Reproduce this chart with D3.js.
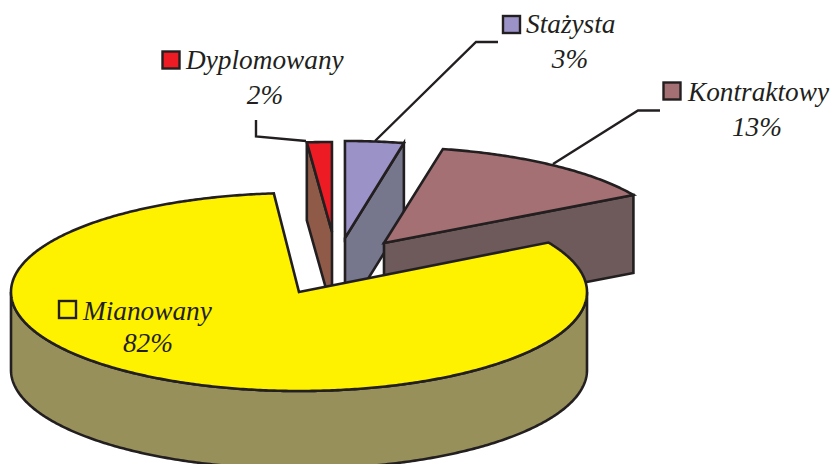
<!DOCTYPE html>
<html><head><meta charset="utf-8">
<script src="https://cdn.jsdelivr.net/npm/d3@7"></script>
<style>html,body{margin:0;padding:0;background:#fff;overflow:hidden}
text{font-family:"Liberation Serif",serif;font-style:italic;font-size:27.3px;fill:#231f20}</style>
</head><body><svg id="c" width="830" height="464"></svg>
<script>
const categories=["Mianowany","Dyplomowany","Stażysta","Kontraktowy"];
const shares=[81.94,1.39,3.28,13.39];
const percentLabels=["82%","2%","3%","13%"];
const topColors=["#fff200","#ed1c24","#9b93c8","#a47074"];
const sideColors=["#97905a","#8f5a48","#76768c","#6e5a5a"];
const explodeX=[0,33,46,85];
const explodeY=[0,-60,-54,-49];
const radiusY=[99,90,97,96];
const radiusX=288, depth=78, cx=299, cy=292;
const ink="#231f20";
const svg=d3.select("#c");
const arcs=d3.pie().sort(null).startAngle(Math.PI/3).endAngle(Math.PI/3+2*Math.PI)(shares);
const slices=arcs.map((a,i)=>{
  const x=d3.scaleLinear().domain([-1,1]).range([cx+explodeX[i]-radiusX,cx+explodeX[i]+radiusX]);
  const y=d3.scaleLinear().domain([-1,1]).range([cy+explodeY[i]-radiusY[i],cy+explodeY[i]+radiusY[i]]);
  return {i,a,x,y,pt:t=>[x(Math.sin(t)),y(-Math.cos(t))]};
});
const line=d3.line();
const sample=(a,b)=>{const n=Math.max(2,Math.ceil(Math.abs(b-a)/0.01));return d3.range(n+1).map(k=>a+(b-a)*k/n);};
const down=p=>[p[0],p[1]+depth];
function face(pts,fill){svg.append("path").attr("d",line(pts)+"Z").attr("fill",fill).attr("stroke",ink).attr("stroke-width",2.6).attr("stroke-linejoin","miter");}
function cutFace(s,t){const c=[s.x(0),s.y(0)],p=s.pt(t);face([c,p,down(p),down(c)],sideColors[s.i]);}
function topFace(s){const c=[s.x(0),s.y(0)];face([c,...sample(s.a.startAngle,s.a.endAngle).map(s.pt)],topColors[s.i]);}

// back slices first
const [mian,dypl,staz,kontr]=slices;
cutFace(dypl,dypl.a.startAngle); topFace(dypl);
cutFace(staz,staz.a.endAngle); topFace(staz);
cutFace(kontr,kontr.a.endAngle); topFace(kontr);
// main slice: outer wall, then top
const wall=sample(Math.PI/2,3*Math.PI/2).map(mian.pt);
face([...wall,...wall.slice().reverse().map(down)],sideColors[0]);
topFace(mian);

// leaders
const leaders=[
 null,
 [[306,141],[256,136.5],[256,120]],
 [[375,141],[476,42],[498,42]],
 [[553,164],[638,110.5],[660,110.5]]
];
leaders.forEach(l=>{if(l)svg.append("path").attr("d",line(l)).attr("fill","none").attr("stroke",ink).attr("stroke-width",2.4);});

// labels
const swatchX=[59,162.5,503,663.5], swatchY=[301,51.5,16,82.5];
const nameX=[83,186,526,688], nameY=[320,69,33,101];
const pctX=[148,265,570,757], pctY=[352,104,68,136];
categories.forEach((c,i)=>{
  svg.append("rect").attr("x",swatchX[i]).attr("y",swatchY[i]).attr("width",17).attr("height",17)
    .attr("fill",topColors[i]).attr("stroke",ink).attr("stroke-width",2.4);
  svg.append("text").attr("x",nameX[i]).attr("y",nameY[i]).text(c);
  svg.append("text").attr("x",pctX[i]).attr("y",pctY[i]).attr("text-anchor","middle").text(percentLabels[i]);
});
</script></body></html>
